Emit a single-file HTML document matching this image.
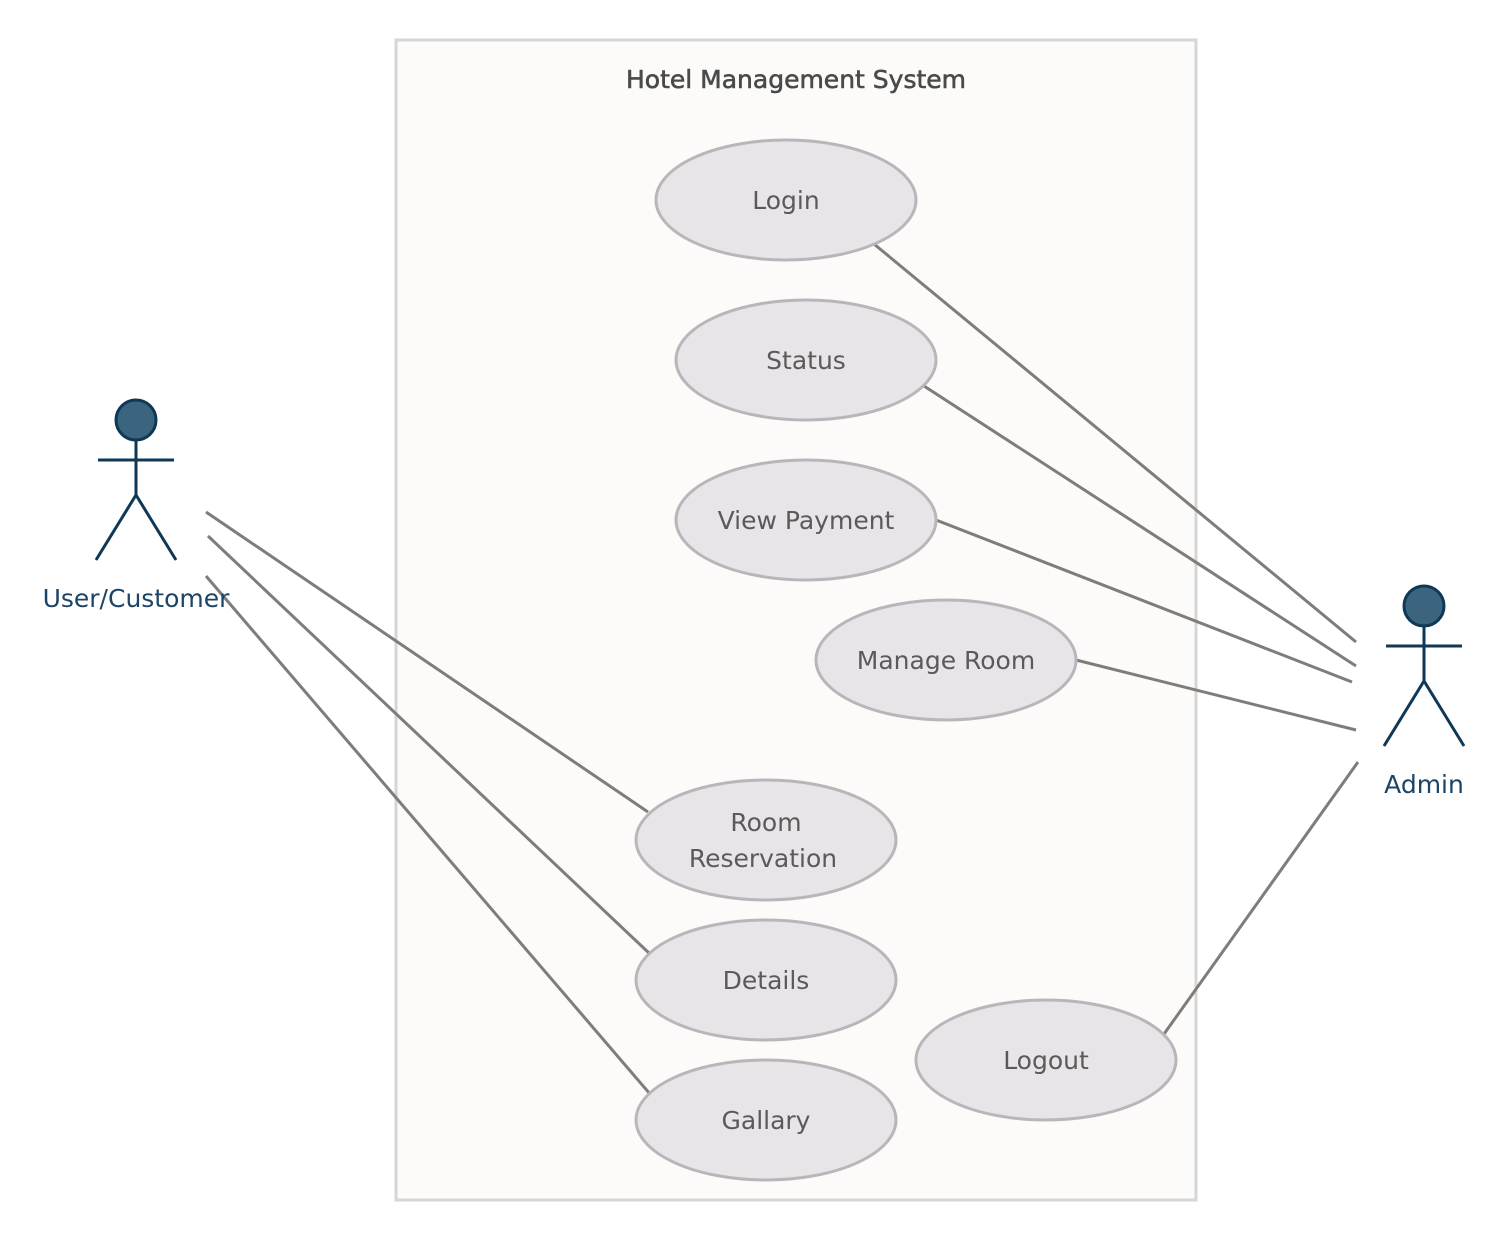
<!DOCTYPE html>
<html><head><meta charset="utf-8"><style>html,body{margin:0;padding:0;background:#fff}</style></head>
<body>
<svg width="1505" height="1240" viewBox="0 0 1505 1240" xmlns="http://www.w3.org/2000/svg" font-family="DejaVu Sans, Liberation Sans, sans-serif">
<rect x="396" y="40" width="800" height="1160" fill="#fcfbfa" stroke="#d6d6d6" stroke-width="3"/>
<text x="796" y="88" text-anchor="middle" font-size="25" fill="#4a4a4a" stroke="#4a4a4a" stroke-width="0.6">Hotel Management System</text>
<g stroke="#7f7c7a" stroke-width="3" fill="none">
<line x1="206" y1="512" x2="648" y2="812"/>
<line x1="208" y1="536" x2="650" y2="954"/>
<line x1="206" y1="576" x2="650" y2="1094"/>
<line x1="874" y1="244" x2="1356" y2="642"/>
<line x1="924" y1="386" x2="1356" y2="666"/>
<line x1="936" y1="520" x2="1352" y2="682"/>
<line x1="1076" y1="660" x2="1356" y2="730"/>
<line x1="1164" y1="1034" x2="1358" y2="762"/>
</g>
<g fill="#e8e4e8" stroke="#b9b6b9" stroke-width="3">
<ellipse cx="786" cy="200" rx="130" ry="60"/>
<ellipse cx="806" cy="360" rx="130" ry="60"/>
<ellipse cx="806" cy="520" rx="130" ry="60"/>
<ellipse cx="946" cy="660" rx="130" ry="60"/>
<ellipse cx="766" cy="840" rx="130" ry="60"/>
<ellipse cx="766" cy="980" rx="130" ry="60"/>
<ellipse cx="766" cy="1120" rx="130" ry="60"/>
<ellipse cx="1046" cy="1060" rx="130" ry="60"/>
</g>
<g font-size="25" fill="#5a5a5a" text-anchor="middle">
<text x="786" y="209">Login</text>
<text x="806" y="369">Status</text>
<text x="806" y="529">View Payment</text>
<text x="946" y="669">Manage Room</text>
<text x="766" y="831">Room</text>
<text x="763" y="867">Reservation</text>
<text x="766" y="989">Details</text>
<text x="766" y="1129">Gallary</text>
<text x="1046" y="1069">Logout</text>
</g>
<g stroke="#0f3856" stroke-width="3" fill="none">
<circle cx="136" cy="420" r="20" fill="#3b647f"/>
<line x1="136" y1="440" x2="136" y2="495"/>
<line x1="98" y1="460" x2="174" y2="460"/>
<polyline points="96,560 136,495 176,560"/>
<circle cx="1424" cy="606" r="20" fill="#3b647f"/>
<line x1="1424" y1="626" x2="1424" y2="681"/>
<line x1="1386" y1="646" x2="1462" y2="646"/>
<polyline points="1384,746 1424,681 1464,746"/>
</g>
<g font-size="25" fill="#1b4466" text-anchor="middle">
<text x="136" y="607">User/Customer</text>
<text x="1424" y="793">Admin</text>
</g>
</svg>
</body></html>
